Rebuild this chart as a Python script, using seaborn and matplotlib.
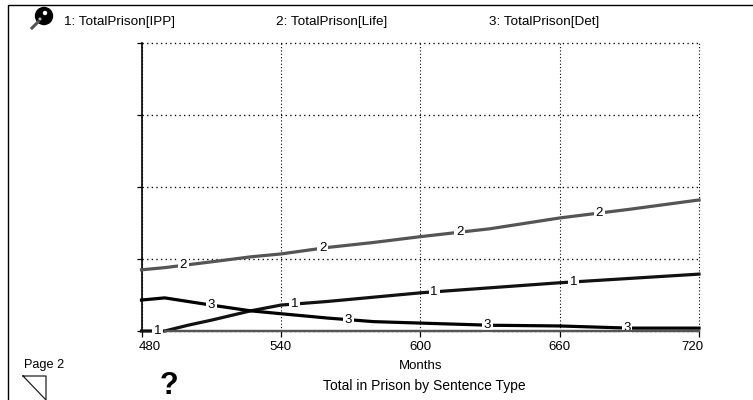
import matplotlib
matplotlib.use("Agg")
import matplotlib.pyplot as plt
import matplotlib.transforms as mtrans
import seaborn as sns
import pandas as pd
from matplotlib.lines import Line2D
from matplotlib.patches import Circle

months = [480, 490, 500, 510, 527, 540, 560, 580, 600, 630, 660, 690, 720]
ipp = [0.0, 0.0, 0.08, 0.15, 0.28, 0.36, 0.41, 0.47, 0.53, 0.60, 0.67, 0.73, 0.79]
life = [0.85, 0.88, 0.92, 0.96, 1.03, 1.07, 1.16, 1.23, 1.31, 1.42, 1.57, 1.69, 1.82]
det = [0.43, 0.46, 0.41, 0.36, 0.28, 0.24, 0.18, 0.13, 0.11, 0.08, 0.07, 0.04, 0.04]

series_names = ["TotalPrison[IPP]", "TotalPrison[Life]", "TotalPrison[Det]"]
series_ids = ["1", "2", "3"]
series_colors = ["#111111", "#555555", "#000000"]
label_months = [[487, 546, 606, 666], [498, 558, 617, 677], [510, 569, 629, 689]]

x_ticks = [480, 540, 600, 660, 720]
y_ticks = [0, 1, 2, 3, 4]

df = pd.DataFrame({"month": months, "1": ipp, "2": life, "3": det})
long_df = df.melt("month", var_name="series", value_name="total")

plt.rcParams["font.family"] = ["Liberation Sans", "DejaVu Sans"]
fig = plt.figure(figsize=(7.53, 4.0), dpi=100)
ax = fig.add_axes([141.5 / 753, 1 - 331 / 400, (699 - 141.5) / 753, (331 - 43) / 400])

sns.lineplot(data=long_df, x="month", y="total", hue="series", palette=dict(zip(series_ids, series_colors)),
             linewidth=2.3, legend=False, ax=ax, clip_on=False, zorder=3)

ax.set_xlim(480, 720)
ax.set_ylim(0, 4)
ax.set_xticks(x_ticks)
ax.set_yticks(y_ticks)
ax.set_yticklabels([])
ax.tick_params(axis="x", length=4, width=0.9, labelsize=9.5, pad=3.5, direction="out")
ax.tick_params(axis="y", length=3.5, width=0.9)

# vertical grid is fine dots, horizontal is sparse dots
ax.grid(True, axis="x", color="black", linestyle=(0, (1, 2)), linewidth=0.8)
ax.grid(True, axis="y", color="black", linestyle=(0, (1, 2.5)), linewidth=0.95)
for gl in ax.get_xgridlines() + ax.get_ygridlines():
    gl.set_clip_on(False)
ax.set_axisbelow(True)

# end labels are nudged inwards so they stay inside the plot
labels = ax.get_xticklabels()
labels[0].set_ha("left")
labels[0].set_transform(labels[0].get_transform() + mtrans.ScaledTranslation(-3 / 100, 0, fig.dpi_scale_trans))
labels[-1].set_ha("right")
labels[-1].set_transform(labels[-1].get_transform() + mtrans.ScaledTranslation(4 / 100, 0, fig.dpi_scale_trans))

ax.set_xlabel("Months", fontsize=9.5, labelpad=4.6)
ax.set_ylabel("")
for side in ["top", "right"]:
    ax.spines[side].set_visible(False)
ax.spines["left"].set_linewidth(1.2)
ax.spines["bottom"].set_linewidth(1.6)
ax.spines["bottom"].set_color("#555555")

# numbered tags sitting on the curves
values = [ipp, life, det]
for sid, ms, vals in zip(series_ids, label_months, values):
    for m in ms:
        below = [i for i in range(len(months)) if months[i] <= m][-1]
        above = min(below + 1, len(months) - 1)
        v = vals[below] + (vals[above] - vals[below]) * (m - months[below]) / (months[above] - months[below])
        ax.text(m, v, sid, fontsize=9.5, ha="center", va="center", zorder=4,
                bbox=dict(facecolor="white", edgecolor="none", pad=1.2))

# the tags must not eat the baseline, but curve 1 stays on top where it runs along it
ax.plot([months[1], x_ticks[-1]], [y_ticks[0], y_ticks[0]], color="#555555", lw=1.6, zorder=4.5, clip_on=False)


def fig_text(x, y, s, **kw):
    fig.text(x / 753, 1 - y / 400, s, va="center", **kw)


# legend row
fig_text(64, 22, "1: " + series_names[0], fontsize=9.7)
fig_text(276, 22, "2: " + series_names[1], fontsize=9.7)
fig_text(489, 22, "3: " + series_names[2], fontsize=9.7)

# footer
fig_text(24, 365, "Page 2", fontsize=9.2)
fig_text(160, 386.5, "?", fontsize=22, fontweight="bold", ha="left")
fig_text(323, 386, "Total in Prison by Sentence Type", fontsize=10)

# window frame and page corner, in pixel coordinates
overlay = fig.add_axes([0, 0, 1, 1], facecolor="none")
overlay.set_xlim(0, 753)
overlay.set_ylim(400, 0)
overlay.axis("off")
overlay.add_line(Line2D([8, 8, 753], [400, 5, 5], color="black", lw=1))
overlay.add_line(Line2D([23, 46, 46, 23], [376, 376, 400, 376], color="#222222", lw=0.9))

# magnifier icon
overlay.add_patch(Circle((44, 16), 8.5, color="black"))
overlay.add_patch(Circle((45, 13), 1.5, color="white"))
overlay.add_patch(Circle((40, 19), 0.8, color="#bbbbbb"))
overlay.add_line(Line2D([32, 38], [28, 22], color="#555555", lw=2.2))

fig.savefig("out.png", dpi=100)
